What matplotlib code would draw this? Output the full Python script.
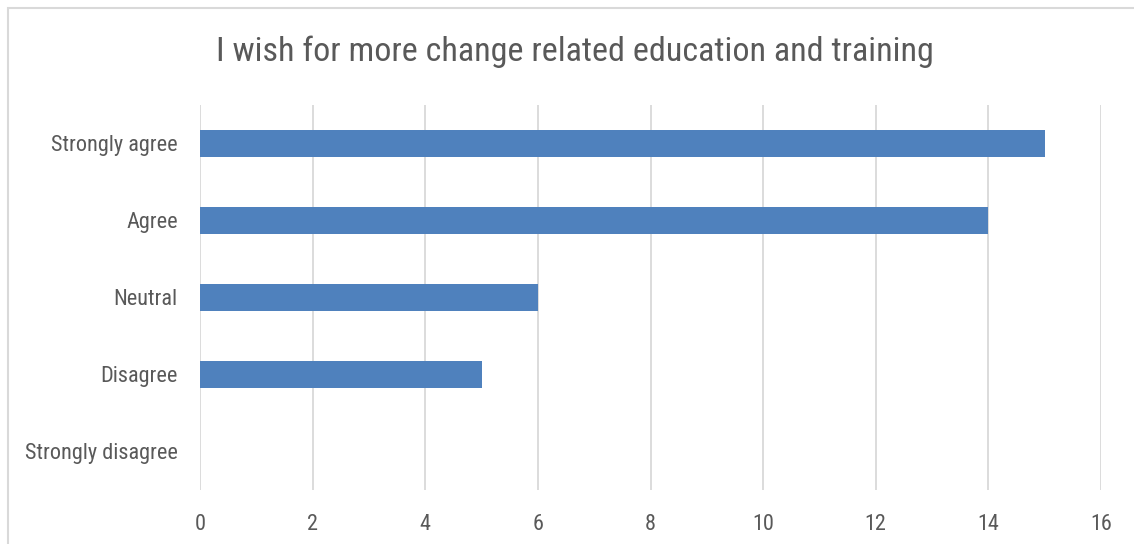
import matplotlib
matplotlib.use("Agg")
import matplotlib.pyplot as plt
from matplotlib.patches import Rectangle
from matplotlib import font_manager

categories = ["Strongly agree", "Agree", "Neutral", "Disagree", "Strongly disagree"]
values = [15, 14, 6, 5, 0]
xticks = [0, 2, 4, 6, 8, 10, 12, 14, 16]
title = "I wish for more change related education and training"

available = {f.name for f in font_manager.fontManager.ttflist}
narrow = None
for cand in ["Liberation Sans Narrow", "Roboto Condensed", "Arial Narrow", "Open Sans Condensed"]:
    if cand in available:
        narrow = cand
        break
if narrow:
    plt.rcParams['font.family'] = [narrow, 'DejaVu Sans']
    title_size, tick_size = 24.6, 16
else:
    plt.rcParams['font.family'] = ['Roboto', 'DejaVu Sans']
    title_size, tick_size = 22, 14.2
text_color = "#595959"

fig = plt.figure(figsize=(11.34, 5.44), dpi=100)
ax = fig.add_axes([200/1134, 1-489.5/544, (1101-200)/1134, (489.5-105)/544])

ypos = list(range(len(categories)))
ax.barh(ypos, values, height=0.355, color="#4F81BD", zorder=3)
ax.set_yticks(ypos)
ax.set_yticklabels(categories)
ax.set_ylim(len(categories)-0.5, -0.5)
ax.set_xlim(0, 16)
ax.set_xticks(xticks)
ax.set_xticklabels([str(t) for t in xticks])
ax.grid(axis='x', color="#D9D9D9", linewidth=1.3, zorder=0)
for s in ax.spines.values():
    s.set_visible(False)
ax.tick_params(axis='both', length=0, labelsize=tick_size, colors=text_color)
ax.tick_params(axis='y', pad=16)
ax.tick_params(axis='x', pad=18)

fig.text(575/1134, 1-52/544, title, ha='center', va='center', fontsize=title_size, color=text_color)

fig.patches.append(Rectangle((8/1134, -0.1), 1.2, 1 - 8/544 + 0.1, transform=fig.transFigure,
                             fill=False, edgecolor="#D9D9D9", linewidth=1.5))

fig.savefig("out.png", dpi=100)
